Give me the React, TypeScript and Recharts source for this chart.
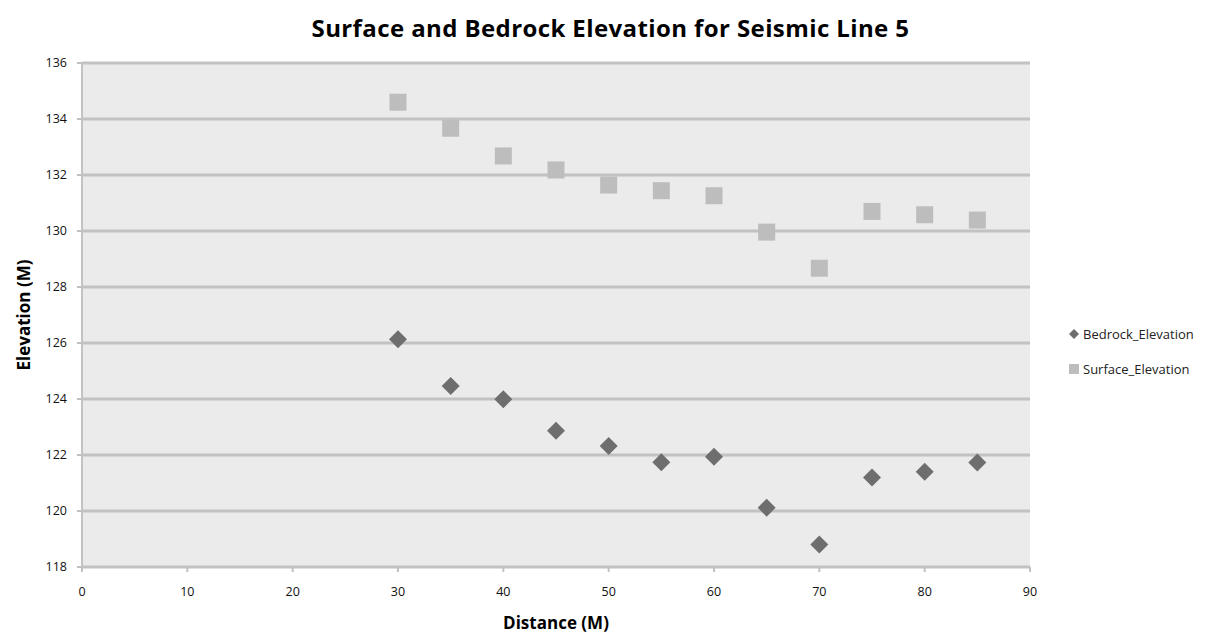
import React from "react";
import {
  ScatterChart,
  Scatter,
  XAxis,
  YAxis,
  CartesianGrid,
  Label,
} from "recharts";

const distances = [30, 35, 40, 45, 50, 55, 60, 65, 70, 75, 80, 85];
const bedrock = [126.13, 124.46, 123.99, 122.87, 122.32, 121.74, 121.94, 120.12, 118.8, 121.2, 121.4, 121.73];
const surface = [134.6, 133.67, 132.68, 132.18, 131.64, 131.44, 131.26, 129.96, 128.67, 130.7, 130.58, 130.39];
const xTicks = [0, 10, 20, 30, 40, 50, 60, 70, 80, 90];
const yTicks = [118, 120, 122, 124, 126, 128, 130, 132, 134, 136];

const bedrockData = distances.map((d, i) => ({ x: d, y: bedrock[i] }));
const surfaceData = distances.map((d, i) => ({ x: d, y: surface[i] }));

const DARK = "#6e6e6e";
const LIGHT = "#bdbdbd";
const GRID = "#c2c2c2";
const FONT = "'Open Sans', sans-serif";

const Diamond = (props: any) => {
  const { cx, cy } = props;
  const r = 9;
  return (
    <polygon
      points={`${cx},${cy - r} ${cx + r},${cy} ${cx},${cy + r} ${cx - r},${cy}`}
      fill={DARK}
    />
  );
};

const Square = (props: any) => {
  const { cx, cy } = props;
  const s = 17;
  return <rect x={cx - s / 2} y={cy - s / 2} width={s} height={s} fill={LIGHT} />;
};

const legendItems = [
  { name: "Bedrock_Elevation", kind: "diamond" },
  { name: "Surface_Elevation", kind: "square" },
];

function LegendBox() {
  return (
    <div style={{ fontFamily: FONT, fontSize: 13, color: "#222" }}>
      {legendItems.map((it) => (
        <div key={it.name} style={{ display: "flex", alignItems: "center", height: 35 }}>
          <svg width={12} height={12} style={{ marginRight: 3 }}>
            {it.kind === "diamond" ? (
              <polygon points="6,1 11,6 6,11 1,6" fill={DARK} />
            ) : (
              <rect x={1} y={1} width={10} height={10} fill={LIGHT} />
            )}
          </svg>
          <span>{it.name}</span>
        </div>
      ))}
    </div>
  );
}

export default function App() {
  return (
    <div style={{ position: "relative", width: 1219, height: 626 }}>
      <div
        style={{
          position: "absolute",
          top: 3,
          left: 0,
          width: 1205,
          textAlign: "center",
          fontFamily: FONT,
          fontWeight: 700,
          fontSize: 24,
          letterSpacing: 0.4,
          color: "#000",
        }}
      >
        Surface and Bedrock Elevation for Seismic Line 5
      </div>
      <div style={{ position: "absolute", left: 1060, top: 308 }}>
        <LegendBox />
      </div>
      <ScatterChart
        width={1219}
        height={626}
        margin={{ top: 55, right: 197, bottom: 37, left: 0 }}
      >
        <CartesianGrid
          vertical={false}
          fill="#ebebeb"
          stroke={GRID}
          strokeWidth={3}
        />
        <XAxis
          type="number"
          dataKey="x"
          domain={[0, 90]}
          ticks={xTicks}
          interval={0}
          height={30}
          axisLine={{ stroke: GRID, strokeWidth: 2 }}
          tickLine={{ stroke: GRID, strokeWidth: 2 }}
          tickSize={5}
          tick={{ fill: "#111", fontSize: 12.5, fontFamily: FONT }}
          tickMargin={15}
        >
          <Label
            value="Distance (M)"
            position="bottom"
            offset={20}
            style={{ fontFamily: FONT, fontWeight: 700, fontSize: 17, fill: "#000" }}
          />
        </XAxis>
        <YAxis
          type="number"
          dataKey="y"
          domain={[118, 136]}
          ticks={yTicks}
          interval={0}
          width={74}
          axisLine={{ stroke: GRID, strokeWidth: 2 }}
          tickLine={{ stroke: GRID, strokeWidth: 2 }}
          tickSize={5}
          tick={{ fill: "#111", fontSize: 12.5, fontFamily: FONT }}
          tickMargin={10}
        >
          <Label
            value="Elevation (M)"
            angle={-90}
            position="insideLeft"
            offset={16}
            style={{ textAnchor: "middle", fontFamily: FONT, fontWeight: 700, fontSize: 17, fill: "#000" }}
          />
        </YAxis>
        <Scatter
          name="Bedrock_Elevation"
          data={bedrockData}
          shape={<Diamond />}
          isAnimationActive={false}
        />
        <Scatter
          name="Surface_Elevation"
          data={surfaceData}
          shape={<Square />}
          isAnimationActive={false}
        />
      </ScatterChart>
    </div>
  );
}
